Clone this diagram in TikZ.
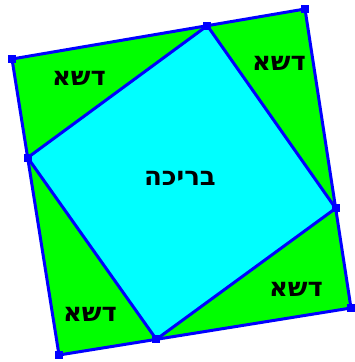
\documentclass[tikz,border=0pt]{standalone}
\usepackage{fontspec}
\newfontfamily\hebfont[Script=Hebrew]{DejaVu Sans}
\TeXXeTstate=1
\usetikzlibrary{calc}
\definecolor{grass}{RGB}{0,255,0}
\definecolor{pool}{RGB}{0,255,255}
\definecolor{edgeblue}{RGB}{0,0,255}

\begin{document}
\begin{tikzpicture}[x=1pt, y=-1pt,
    edge/.style={draw=edgeblue, line width=3pt, line join=round},
    dot/.style={fill=edgeblue, minimum size=8pt, inner sep=0pt},
    heb/.style={font=\hebfont\bfseries\fontsize{26}{26}\selectfont, text=black}]
  \useasboundingbox (0,0) rectangle (354,362);
  % vnejsi ctverec
  \coordinate (A) at (12,59);
  \coordinate (B) at (305,9);
  \coordinate (C) at (351,308);
  \coordinate (D) at (59,355);
  % vnitrni ctverec (body ve 2/3 stran)
  \coordinate (P) at ($(A)!2/3!(B)$);
  \coordinate (Q) at ($(B)!2/3!(C)$);
  \coordinate (R) at ($(C)!2/3!(D)$);
  \coordinate (S) at ($(D)!2/3!(A)$);

  \fill[grass] (A) -- (B) -- (C) -- (D) -- cycle;
  \fill[pool] (P) -- (Q) -- (R) -- (S) -- cycle;
  \draw[edge] (A) -- (B) -- (C) -- (D) -- cycle;
  \draw[edge] (P) -- (Q) -- (R) -- (S) -- cycle;

  % body
  \foreach \p in {A,B,C,D,P,Q,R,S}
    \node[dot] (dot\p) at (\p) {};

  % popisky
  \node[heb] (pool) at (180,178) {\beginR בריכה\endR};
  \node[heb] (grassA) at (79,78) {\beginR דשא\endR};
  \node[heb] (grassB) at (279,63) {\beginR דשא\endR};
  \node[heb] (grassC) at (90,314) {\beginR דשא\endR};
  \node[heb] (grassD) at (296,289) {\beginR דשא\endR};
\end{tikzpicture}
\end{document}
